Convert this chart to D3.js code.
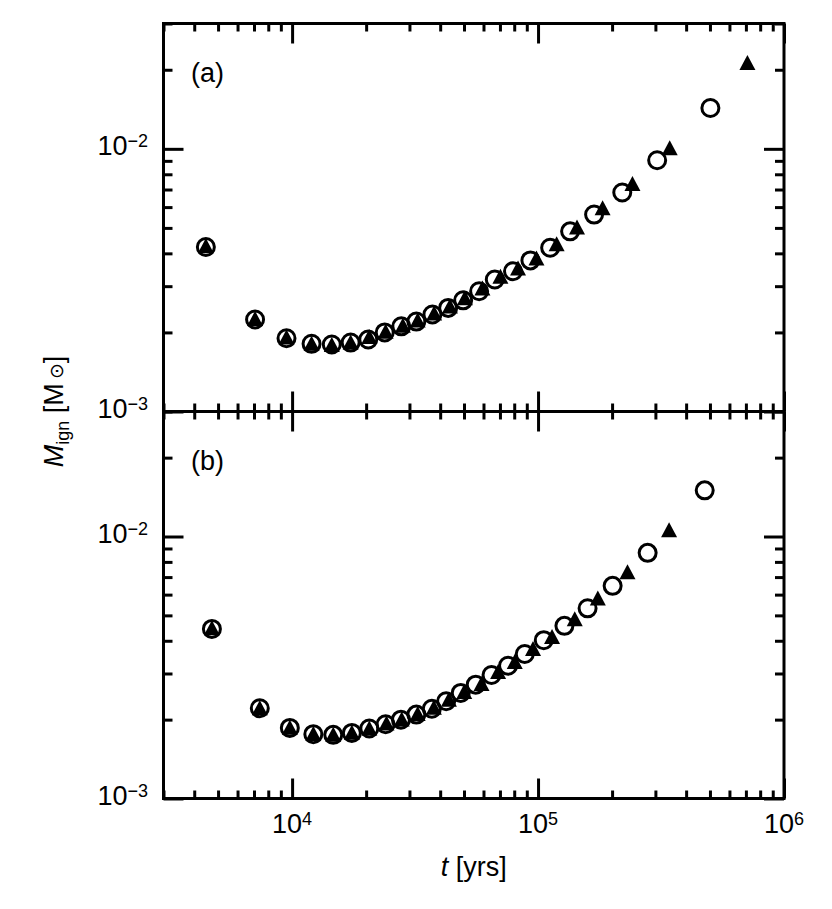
<!DOCTYPE html>
<html>
<head>
<meta charset="utf-8">
<script src="https://cdn.jsdelivr.net/npm/d3@7"></script>
<style>
body { margin: 0; background: #fff; }
svg { display: block; font-family: "Liberation Sans", Arial, Helvetica, sans-serif; }
</style>
</head>
<body>
<div id="chart"></div>
<script>
// panel (a): open circles and filled triangles, t in yrs, M in Msun
var tA_circle = [4.46e3, 7.07e3, 9.49e3, 1.20e4, 1.45e4, 1.73e4, 2.04e4, 2.38e4, 2.78e4, 3.20e4, 3.72e4, 4.31e4,
                 4.96e4, 5.76e4, 6.67e4, 7.91e4, 9.31e4, 1.12e5, 1.35e5, 1.69e5, 2.20e5, 3.05e5, 5.02e5];
var mA_circle = [4.23e-3, 2.24e-3, 1.90e-3, 1.81e-3, 1.80e-3, 1.83e-3, 1.88e-3, 2.00e-3, 2.11e-3, 2.20e-3, 2.34e-3, 2.48e-3,
                 2.65e-3, 2.87e-3, 3.18e-3, 3.42e-3, 3.76e-3, 4.20e-3, 4.85e-3, 5.62e-3, 6.82e-3, 9.05e-3, 1.43e-2];
var tA_tri = [4.46e3, 7.07e3, 9.49e3, 1.20e4, 1.45e4, 1.73e4, 2.06e4, 2.40e4, 2.82e4, 3.24e4, 3.78e4, 4.38e4,
              5.04e4, 5.94e4, 7.03e4, 8.29e4, 9.85e4, 1.19e5, 1.44e5, 1.83e5, 2.42e5, 3.43e5, 7.10e5];
var mA_tri = [4.28e-3, 2.26e-3, 1.92e-3, 1.82e-3, 1.80e-3, 1.84e-3, 1.93e-3, 2.02e-3, 2.13e-3, 2.23e-3, 2.37e-3, 2.52e-3,
              2.71e-3, 2.95e-3, 3.27e-3, 3.52e-3, 3.84e-3, 4.35e-3, 5.04e-3, 5.96e-3, 7.38e-3, 1.01e-2, 2.13e-2];

// panel (b)
var tB_circle = [4.72e3, 7.39e3, 9.79e3, 1.22e4, 1.47e4, 1.75e4, 2.06e4, 2.40e4, 2.77e4, 3.20e4, 3.70e4, 4.23e4,
                 4.85e4, 5.58e4, 6.47e4, 7.55e4, 8.83e4, 1.055e5, 1.28e5, 1.59e5, 2.01e5, 2.79e5, 4.76e5];
var mB_circle = [4.44e-3, 2.21e-3, 1.86e-3, 1.76e-3, 1.75e-3, 1.78e-3, 1.85e-3, 1.92e-3, 2.00e-3, 2.09e-3, 2.20e-3, 2.35e-3,
                 2.53e-3, 2.72e-3, 2.96e-3, 3.21e-3, 3.56e-3, 4.02e-3, 4.56e-3, 5.32e-3, 6.48e-3, 8.66e-3, 1.50e-2];
var tB_tri = [4.72e3, 7.39e3, 9.79e3, 1.22e4, 1.47e4, 1.75e4, 2.06e4, 2.42e4, 2.79e4, 3.24e4, 3.77e4, 4.34e4,
              5.01e4, 5.89e4, 6.88e4, 8.04e4, 9.54e4, 1.14e5, 1.41e5, 1.75e5, 2.31e5, 3.41e5];
var mB_tri = [4.48e-3, 2.22e-3, 1.87e-3, 1.77e-3, 1.76e-3, 1.79e-3, 1.86e-3, 1.94e-3, 2.01e-3, 2.11e-3, 2.23e-3, 2.39e-3,
              2.56e-3, 2.75e-3, 3.05e-3, 3.33e-3, 3.74e-3, 4.15e-3, 4.85e-3, 5.83e-3, 7.33e-3, 1.06e-2];

var xDomain = [3e3, 1e6];
var yDomain = [1e-3, 3e-2];
var xMajor = [1e4, 1e5, 1e6];
var xMajorExp = ["4", "5", "6"];
var yMajor = [1e-3, 1e-2];
var yMajorExp = ["\u22123", "\u22122"];
var panelNames = ["(a)", "(b)"];

var width = 832, height = 909;
var left = 163.5, right = 784;
var panelTop = [23.5, 411.5];
var panelBottom = [411.5, 798.5];

var panels = [
    {name: panelNames[0], circT: tA_circle, circM: mA_circle, triT: tA_tri, triM: mA_tri},
    {name: panelNames[1], circT: tB_circle, circM: mB_circle, triT: tB_tri, triM: mB_tri}
];

var svg = d3.select("#chart").append("svg")
    .attr("width", width)
    .attr("height", height);

var x = d3.scaleLog().domain(xDomain).range([left, right]);

function isDecade(d){
    var e = Math.log10(d);
    return Math.abs(e - Math.round(e)) < 1e-6;
}

var xMinor = x.ticks().filter(function(d){ return !isDecade(d); });

// filled triangle, centred on its bounding box
var triangle = {
    draw: function(context, size){
        var w = 8, h = 7.5;
        context.moveTo(0, -h);
        context.lineTo(w, h);
        context.lineTo(-w, h);
        context.closePath();
    }
};

function styleTicks(g){
    g.select(".domain").remove();
    g.selectAll(".tick line")
        .attr("stroke", "#000")
        .attr("stroke-width", 3);
}

function addAxis(g, axis){
    g.call(axis).call(styleTicks);
}

function powerText(sel, exp){
    sel.append("tspan").text("10");
    sel.append("tspan")
        .attr("font-size", 18)
        .attr("dy", -8)
        .text(exp);
}

panels.forEach(function(p, i){
    var top = panelTop[i], bottom = panelBottom[i];
    var y = d3.scaleLog().domain(yDomain).range([bottom, top]);
    var yMinor = y.ticks().filter(function(d){ return !isDecade(d); });

    var g = svg.append("g").attr("class", "panel");

    // ticks on all four sides, pointing inward
    var sides = [
        {make: d3.axisBottom, scale: x, pos: "translate(0," + bottom + ")"},
        {make: d3.axisTop, scale: x, pos: "translate(0," + top + ")"},
        {make: d3.axisLeft, scale: y, pos: "translate(" + left + ",0)"},
        {make: d3.axisRight, scale: y, pos: "translate(" + right + ",0)"}
    ];
    sides.forEach(function(s){
        var major = s.scale === x ? xMajor : yMajor;
        var minor = s.scale === x ? xMinor : yMinor;
        var minorLen = s.scale === x ? 8 : 9;
        addAxis(g.append("g").attr("transform", s.pos),
            s.make(s.scale).tickValues(major).tickSize(-20).tickFormat(""));
        addAxis(g.append("g").attr("transform", s.pos),
            s.make(s.scale).tickValues(minor).tickSize(-minorLen).tickFormat(""));
    });

    g.append("rect")
        .attr("x", left)
        .attr("y", top)
        .attr("width", right - left)
        .attr("height", bottom - top)
        .attr("fill", "none")
        .attr("stroke", "#000")
        .attr("stroke-width", 3);

    // y labels
    yMajor.forEach(function(v, k){
        g.append("text")
            .attr("x", 148)
            .attr("y", y(v) + 6.5)
            .attr("text-anchor", "end")
            .attr("font-size", 27)
            .call(powerText, yMajorExp[k]);
    });

    g.append("text")
        .attr("x", 191)
        .attr("y", top + 58)
        .attr("font-size", 27)
        .text(p.name);

    var tri = p.triT.map(function(t, k){ return [t, p.triM[k]]; });
    var circ = p.circT.map(function(t, k){ return [t, p.circM[k]]; });

    g.selectAll("path.tri")
        .data(tri)
        .enter().append("path")
        .attr("class", "tri")
        .attr("d", d3.symbol().type(triangle))
        .attr("transform", function(d){ return "translate(" + x(d[0]) + "," + y(d[1]) + ")"; })
        .attr("fill", "#000");

    g.selectAll("circle.circ")
        .data(circ)
        .enter().append("circle")
        .attr("class", "circ")
        .attr("cx", function(d){ return x(d[0]); })
        .attr("cy", function(d){ return y(d[1]); })
        .attr("r", 8.5)
        .attr("fill", "none")
        .attr("stroke", "#000")
        .attr("stroke-width", 3);
});

// x labels under the lower panel only
xMajor.forEach(function(v, k){
    svg.append("text")
        .attr("x", x(v))
        .attr("y", 833)
        .attr("text-anchor", "middle")
        .attr("font-size", 27)
        .call(powerText, xMajorExp[k]);
});

var xTitle = svg.append("text")
    .attr("x", (left + right) / 2)
    .attr("y", 876)
    .attr("text-anchor", "middle")
    .attr("font-size", 27);
xTitle.append("tspan").attr("font-style", "italic").text("t");
xTitle.append("tspan").text(" [yrs]");

var yTitle = svg.append("text")
    .attr("transform", "translate(63," + panelBottom[0] + ") rotate(-90)")
    .attr("text-anchor", "middle")
    .attr("font-size", 27);
yTitle.append("tspan").attr("font-style", "italic").text("M");
yTitle.append("tspan").attr("font-size", 18).attr("dy", 6).text("ign");
yTitle.append("tspan").attr("dy", -6).text(" [M");
yTitle.append("tspan").attr("font-size", 19).attr("dx", 4).text("\u2299");
yTitle.append("tspan").text("]");
</script>
</body>
</html>
